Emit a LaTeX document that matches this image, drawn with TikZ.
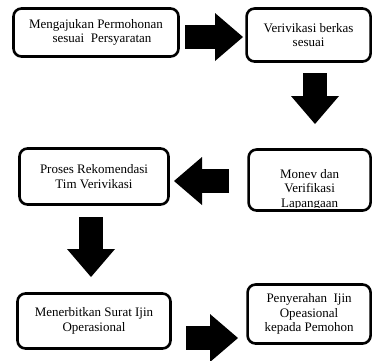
\documentclass[tikz,border=0pt]{standalone}
\usepackage{fontspec}
\setmainfont{Liberation Serif}
\usetikzlibrary{arrows.meta,calc,positioning}

\begin{document}
\begin{tikzpicture}[x=1pt,y=-1pt,
  box/.style={draw,line width=2.6pt,rounded corners=8pt,align=center,inner sep=2pt,font=\fontsize{13}{14.5}\selectfont},
  txt/.style={align=center,inner sep=0pt,font=\fontsize{13}{14.5}\selectfont},
  blockarrow/.style={line width=24.5pt,-{Triangle[length=28pt,width=48pt,line width=0pt]}}]
  \useasboundingbox (0,0) rectangle (372,360);
  % boxes
  \node[box,minimum width=165pt,minimum height=48pt] (apply) at (96,32.5) {Mengajukan Permohonan\\ \hspace*{12pt}sesuai\ \ Persyaratan};
  \node[box,minimum width=124pt,minimum height=53pt] (check) at (308.6,35) {Verivikasi berkas\\sesuai};
  \node[box,minimum width=149pt,minimum height=56pt] (recom) at (94,176.5) {Proses Rekomendasi\\Tim Verivikasi};
  \node[box,minimum width=122pt,minimum height=61pt] (field) at (309.6,180) {};
  \begin{scope}
    \clip (250,150) rectangle (368,207.5);
    \node[txt] (fieldText) at (309.6,189.5) {Monev dan\\Verifikasi\\Lapangaan};
  \end{scope}
  \node[box,minimum width=153pt,minimum height=55pt] (issue) at (94,321) {Menerbitkan Surat Ijin\\Operasional};
  \node[box,minimum width=123pt,minimum height=59pt] (hand) at (309.1,314) {Penyerahan\ \ Ijin\\Opeasional\\kepada Pemohon};
  % arrow ends
  \coordinate (a1s) at (185,37);  \coordinate (a1e) at (243,37);
  \coordinate (a2s) at (315,73);  \coordinate (a2e) at (315,124);
  \coordinate (a3s) at (229,181); \coordinate (a3e) at (174,181);
  \coordinate (a4s) at (91,217);  \coordinate (a4e) at (91,277);
  \coordinate (a5s) at (186,338); \coordinate (a5e) at (238,338);
  \foreach \s/\e in {a1s/a1e,a2s/a2e,a3s/a3e,a4s/a4e,a5s/a5e}
    \draw[blockarrow] (\s) -- (\e);
\end{tikzpicture}
\end{document}
